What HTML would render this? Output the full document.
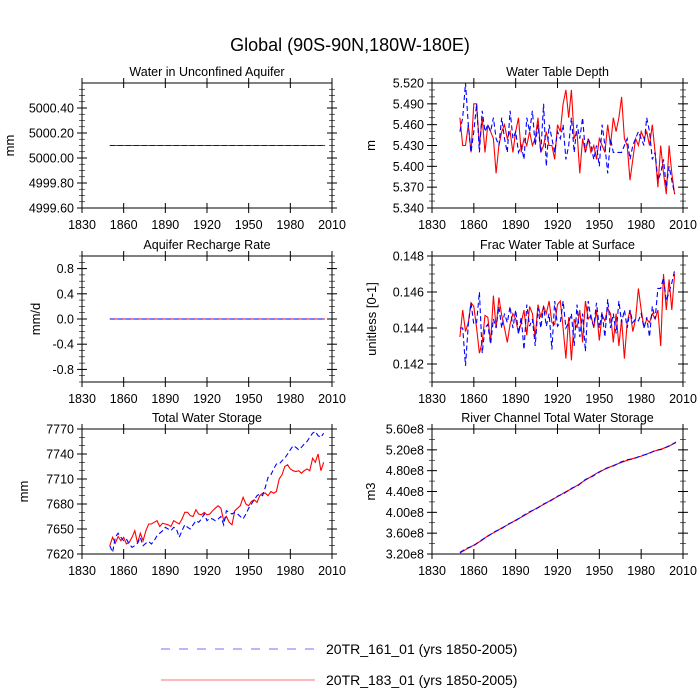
<!DOCTYPE html>
<html><head><meta charset="utf-8">
<style>
html,body{margin:0;padding:0;background:#fff;}
svg{display:block;font-family:"Liberation Sans",sans-serif;}
</style></head>
<body>
<svg id="chart" width="700" height="700" viewBox="0 0 700 700">
<rect width="700" height="700" fill="#fff"/>
<text x="350" y="51" text-anchor="middle" font-size="18">Global (90S-90N,180W-180E)</text>
<g>
<line x1="161" y1="649" x2="315" y2="649" stroke="#7070ff" stroke-width="1" stroke-dasharray="9,9"/>
<text x="326" y="654" font-size="14">20TR_161_01 (yrs 1850-2005)</text>
<line x1="161" y1="680" x2="315" y2="680" stroke="#ff7070" stroke-width="1"/>
<text x="326" y="685" font-size="14">20TR_183_01 (yrs 1850-2005)</text>
</g>
</svg>
<script>
// ---- data ----
const xTicks = [1830,1860,1890,1920,1950,1980,2010];
const constYears = [1850,2005];
const wuaRed = [5000.1,5000.1];
const wuaBlue = [5000.1,5000.1];
const rechRed = [0,0];
const rechBlue = [0,0];
const wtdRed = [5.47,5.43,5.43,5.46,5.42,5.49,5.49,5.43,5.47,5.42,5.46,5.45,5.44,5.39,5.43,5.45,5.46,5.44,5.45,5.42,5.45,5.47,5.42,5.44,5.43,5.45,5.43,5.44,5.47,5.42,5.43,5.45,5.43,5.43,5.41,5.46,5.45,5.49,5.51,5.47,5.51,5.44,5.45,5.39,5.44,5.42,5.44,5.42,5.43,5.41,5.44,5.43,5.42,5.46,5.43,5.47,5.45,5.47,5.50,5.44,5.43,5.38,5.41,5.44,5.43,5.45,5.44,5.45,5.43,5.46,5.42,5.37,5.43,5.39,5.36,5.43,5.39,5.36];
const wtdBlue = [5.45,5.47,5.52,5.46,5.42,5.45,5.49,5.42,5.48,5.45,5.46,5.45,5.47,5.44,5.43,5.47,5.44,5.42,5.48,5.44,5.45,5.42,5.43,5.41,5.47,5.45,5.48,5.43,5.46,5.42,5.49,5.40,5.46,5.44,5.42,5.45,5.44,5.46,5.41,5.43,5.47,5.42,5.46,5.44,5.47,5.42,5.44,5.43,5.41,5.43,5.40,5.46,5.43,5.39,5.44,5.42,5.42,5.42,5.42,5.43,5.44,5.41,5.43,5.44,5.45,5.44,5.43,5.47,5.45,5.41,5.42,5.38,5.39,5.41,5.37,5.40,5.38,5.36];
const fracRed = [0.1435,0.1450,0.1438,0.1443,0.1454,0.1452,0.1440,0.1426,0.1432,0.1447,0.1446,0.1432,0.1458,0.1440,0.1457,0.1447,0.1440,0.1432,0.1442,0.1448,0.1445,0.1437,0.1443,0.1450,0.1436,0.1452,0.1448,0.1435,0.1453,0.1446,0.1452,0.1448,0.1455,0.1443,0.1442,0.1453,0.1455,0.1440,0.1423,0.1446,0.1422,0.1445,0.1440,0.1450,0.1432,0.1455,0.1445,0.1447,0.1440,0.1450,0.1433,0.1447,0.1444,0.1451,0.1448,0.1432,0.1448,0.1430,0.1445,0.1423,0.1443,0.1450,0.1438,0.1445,0.1462,0.1450,0.1440,0.1445,0.1443,0.1448,0.1445,0.1450,0.1430,0.1470,0.1450,0.1467,0.1450,0.1470];
const fracBlue = [0.1440,0.1440,0.1419,0.1442,0.1454,0.1442,0.1443,0.1460,0.1426,0.1440,0.1442,0.1431,0.1445,0.1440,0.1452,0.1440,0.1448,0.1443,0.1452,0.1440,0.1450,0.1437,0.1446,0.1428,0.1453,0.1441,0.1445,0.1430,0.1451,0.1440,0.1452,0.1441,0.1448,0.1428,0.1455,0.1441,0.1443,0.1455,0.1440,0.1443,0.1448,0.1430,0.1453,0.1435,0.1448,0.1427,0.1455,0.1445,0.1441,0.1454,0.1440,0.1449,0.1435,0.1456,0.1440,0.1448,0.1437,0.1455,0.1443,0.1450,0.1440,0.1450,0.1443,0.1445,0.1444,0.1448,0.1440,0.1446,0.1435,0.1452,0.1445,0.1462,0.1462,0.1468,0.1455,0.1460,0.1465,0.1472];
const twsRed = [7630,7640,7633,7641,7636,7640,7632,7634,7640,7648,7633,7645,7636,7648,7656,7656,7658,7660,7653,7657,7656,7655,7653,7660,7658,7656,7662,7670,7670,7666,7665,7673,7668,7667,7670,7667,7668,7672,7675,7678,7675,7660,7665,7658,7655,7672,7675,7678,7688,7680,7678,7683,7685,7682,7690,7693,7693,7690,7695,7693,7695,7710,7715,7725,7727,7722,7720,7719,7720,7717,7720,7722,7720,7735,7730,7740,7720,7730];
const twsBlue = [7630,7622,7640,7645,7640,7636,7638,7632,7628,7630,7633,7640,7630,7633,7635,7632,7636,7642,7645,7648,7652,7650,7648,7652,7650,7640,7648,7655,7652,7650,7655,7660,7658,7662,7668,7660,7663,7662,7660,7662,7665,7655,7672,7670,7668,7670,7668,7665,7662,7668,7675,7680,7685,7690,7692,7690,7700,7712,7715,7722,7728,7728,7732,7735,7740,7745,7750,7748,7745,7748,7752,7755,7760,7765,7767,7762,7760,7765];
const riverYears = [1850,1855,1860,1865,1870,1875,1880,1885,1890,1895,1900,1905,1910,1915,1920,1925,1930,1935,1940,1945,1950,1955,1960,1965,1970,1975,1980,1985,1990,1995,2000,2005];
const riverRed = [3.22e8,3.30e8,3.37e8,3.45e8,3.55e8,3.62e8,3.70e8,3.77e8,3.85e8,3.92e8,4.00e8,4.08e8,4.15e8,4.23e8,4.30e8,4.38e8,4.45e8,4.53e8,4.62e8,4.70e8,4.78e8,4.84e8,4.90e8,4.95e8,5.00e8,5.04e8,5.08e8,5.13e8,5.18e8,5.22e8,5.27e8,5.35e8];
const riverBlue = [3.23e8,3.31e8,3.36e8,3.46e8,3.54e8,3.63e8,3.69e8,3.78e8,3.84e8,3.93e8,4.01e8,4.07e8,4.16e8,4.22e8,4.31e8,4.37e8,4.46e8,4.52e8,4.63e8,4.69e8,4.77e8,4.85e8,4.89e8,4.96e8,5.01e8,5.03e8,5.09e8,5.12e8,5.19e8,5.21e8,5.28e8,5.34e8];
const yTicksWua = [4999.6,4999.8,5000.0,5000.2,5000.4];
const yTicksRech = [-0.8,-0.4,0.0,0.4,0.8];
const yTicksWtd = [5.34,5.37,5.40,5.43,5.46,5.49,5.52];
const yTicksFrac = [0.142,0.144,0.146,0.148];
const yTicksTws = [7620,7650,7680,7710,7740,7770];
const yTicksRiver = [3.2e8,3.6e8,4.0e8,4.4e8,4.8e8,5.2e8,5.6e8];

const NS="http://www.w3.org/2000/svg";
const svg=document.getElementById('chart');
function mk(tag,attrs,parent){const e=document.createElementNS(NS,tag);for(const k in attrs)e.setAttribute(k,attrs[k]);(parent||svg).appendChild(e);return e;}
function years2(arr){return arr.map((v,i)=>1850+2*i);}

const panels=[
 {name:'water-unconfined-aquifer',title:'Water in Unconfined Aquifer',yt:'mm',box:[82,83,332,208],ymin:4999.6,ymax:5000.6,ticks:yTicksWua,fmt:v=>v.toFixed(2),minor:0.05,xs:constYears,red:wuaRed,blue:wuaBlue,ytx:14},
 {name:'water-table-depth',title:'Water Table Depth',yt:'m',box:[432,83,683,208],ymin:5.34,ymax:5.52,ticks:yTicksWtd,fmt:v=>v.toFixed(3),minor:0.01,xs:years2(wtdRed),red:wtdRed,blue:wtdBlue,ytx:375},
 {name:'aquifer-recharge-rate',title:'Aquifer Recharge Rate',yt:'mm/d',box:[82,256,332,382],ymin:-1,ymax:1,ticks:yTicksRech,fmt:v=>v.toFixed(1),minor:0.1,xs:constYears,red:rechRed,blue:rechBlue,ytx:40},
 {name:'frac-water-table-surface',title:'Frac Water Table at Surface',yt:'unitless [0-1]',box:[432,256,683,382],ymin:0.141,ymax:0.148,ticks:yTicksFrac,fmt:v=>v.toFixed(3),minor:0.0005,xs:years2(fracRed),red:fracRed,blue:fracBlue,ytx:376},
 {name:'total-water-storage',title:'Total Water Storage',yt:'mm',box:[82,429,332,554],ymin:7620,ymax:7770,ticks:yTicksTws,fmt:v=>String(v),minor:10,xs:years2(twsRed),red:twsRed,blue:twsBlue,ytx:28},
 {name:'river-channel-storage',title:'River Channel Total Water Storage',yt:'m3',box:[432,429,683,554],ymin:3.2e8,ymax:5.6e8,ticks:yTicksRiver,fmt:v=>(v/1e8).toFixed(2)+'e8',minor:0.2e8,xs:riverYears,red:riverRed,blue:riverBlue,ytx:375}
];

panels.forEach(p=>{
 const [x0,y0,x1,y1]=p.box;
 const g=mk('g',{});
 
 
 const xs=v=>x0+(v-1830)/(2010-1830)*(x1-x0);
 const ys=v=>y1-(v-p.ymin)/(p.ymax-p.ymin)*(y1-y0);
 const t=mk('text',{x:(x0+x1)/2,y:y0-7,'text-anchor':'middle','font-size':12.5},g);
 t.textContent=p.title;
 
 
 const yl=mk('text',{x:p.ytx,y:(y0+y1)/2,'text-anchor':'middle','font-size':13,transform:`rotate(-90 ${p.ytx} ${(y0+y1)/2})`},g);
 yl.textContent=p.yt;
 
 
 // minor y ticks
 for(let v=p.ymin;v<=p.ymax+1e-12;v+=p.minor){const y=ys(v);
  mk('line',{x1:x0-3,x2:x0+3,y1:y,y2:y,stroke:'#000','stroke-width':0.6},g);
  mk('line',{x1:x1-3,x2:x1+3,y1:y,y2:y,stroke:'#000','stroke-width':0.6},g);}
 p.ticks.forEach(v=>{const y=ys(v);
  mk('line',{x1:x0-5,x2:x0+5,y1:y,y2:y,stroke:'#000','stroke-width':1},g);
  mk('line',{x1:x1-5,x2:x1+5,y1:y,y2:y,stroke:'#000','stroke-width':1},g);
  const tl=mk('text',{x:x0-8,y:y+4.5,'text-anchor':'end','font-size':12.5},g);
  tl.textContent=p.fmt(v);
  
  });
 xTicks.forEach(v=>{const x=xs(v);
  mk('line',{x1:x,x2:x,y1:y1-5,y2:y1+5,stroke:'#000','stroke-width':1},g);
  mk('line',{x1:x,x2:x,y1:y0-5,y2:y0+5,stroke:'#000','stroke-width':1},g);
  const tl=mk('text',{x:x,y:y1+21,'text-anchor':'middle','font-size':12.5},g);
  tl.textContent=String(v);
  
  });
 const fr=mk('rect',{x:x0,y:y0,width:x1-x0,height:y1-y0,fill:'none',stroke:'#000','stroke-width':1},g);
 
 
 const pts=a=>a.map((v,i)=>xs(p.xs[i]).toFixed(1)+','+ys(v).toFixed(1)).join(' ');
 const r=mk('polyline',{points:pts(p.red),fill:'none',stroke:'#ff0000','stroke-width':1.1},g);
 
 
 const b=mk('polyline',{points:pts(p.blue),fill:'none',stroke:'#0000ff','stroke-width':1.1,'stroke-dasharray':'5,3'},g);
 
 
});
</script>
</body></html>
